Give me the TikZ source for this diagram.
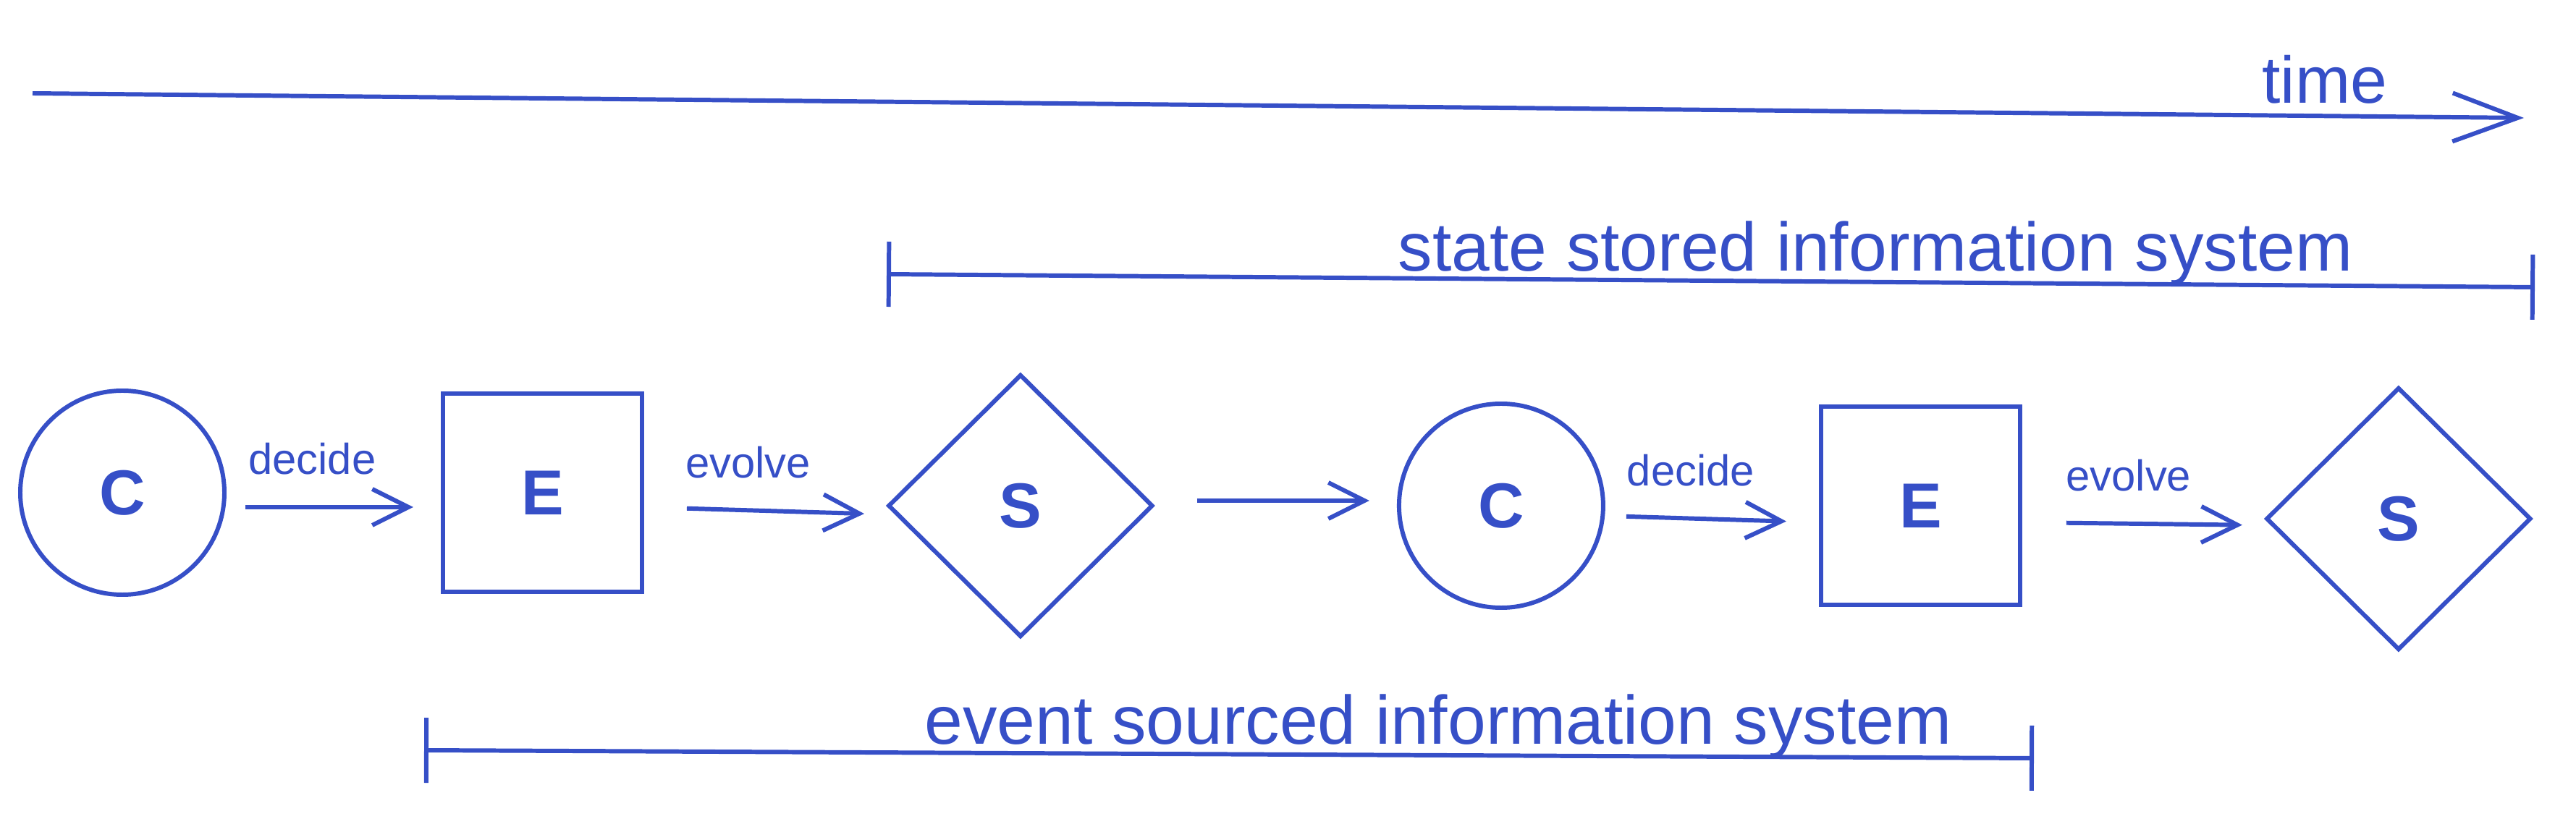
\documentclass[tikz,border=0pt]{standalone}
\usepackage{fontspec}
\setmainfont{Liberation Sans}
\usepackage{tikz}
\usetikzlibrary{positioning,shapes.geometric,arrows.meta}
\definecolor{ink}{HTML}{364FC7}
\tikzset{
  cmdnode/.style={draw=ink, circle, minimum size=28.2mm, inner sep=0pt, line width=1.7pt, text=ink, font=\fontsize{25}{30}\selectfont\bfseries},
  evnode/.style={draw=ink, rectangle, minimum width=27.5mm, minimum height=27.4mm, inner sep=0pt, line width=1.7pt, text=ink, font=\fontsize{25}{30}\selectfont\bfseries},
  stnode/.style={draw=ink, diamond, aspect=1, minimum width=36.6mm, minimum height=36.3mm, inner sep=0pt, line width=1.7pt, text=ink, font=\fontsize{25}{30}\selectfont\bfseries},
  flowlabel/.style={text=ink, font=\fontsize{17}{20}\selectfont, above=3mm},
  arrow/.style={-{Straight Barb[length=5mm, width=5mm]}, draw=ink, line width=1.7pt},
  timearrow/.style={-{Straight Barb[length=9mm, width=6.7mm]}, draw=ink, line width=1.7pt},
  span/.style={{Bar[width=9mm]}-{Bar[width=9mm]}, draw=ink, line width=1.7pt},
  spanlabel/.style={text=ink, font=\fontsize{27}{32}\selectfont, anchor=base, yshift=1.5mm}
}
\begin{document}
\begin{tikzpicture}
  \useasboundingbox (0,0) rectangle (35.59,-11.5);
  % time axis
  \coordinate (t0) at (0.45,-1.29);
  \coordinate (t1) at (34.87,-1.63);
  \draw[timearrow] (t0) -- node[pos=0.92, text=ink, font=\fontsize{26}{30}\selectfont, anchor=base, yshift=1.8mm] {time} (t1);
  % command, event, state chain
  \node[cmdnode] (c1) at (1.69,-6.81) {C};
  \node[evnode, right=2.96cm of c1] (e1) {E};
  \node[stnode, right=3.34cm of e1, yshift=-1.8mm] (s1) {S};
  \node[cmdnode, right=3.34cm of s1] (c2) {C};
  \node[evnode, right=2.95cm of c2] (e2) {E};
  \node[stnode, right=3.34cm of e2, yshift=-1.8mm] (s2) {S};
  \draw[arrow, shorten <=2.6mm, shorten >=3.8mm] ([yshift=-2mm]c1.east) -- node[flowlabel, pos=0.4] {decide} ([yshift=-2mm]e1.west);
  \draw[arrow, shorten <=5.9mm, shorten >=3mm] ([yshift=-2mm]e1.east) -- node[flowlabel, pos=0.43] {evolve} ([yshift=-1.2mm]s1.west);
  \draw[arrow, shorten <=5.8mm, shorten >=3.8mm] ([yshift=0.7mm]s1.east) -- ([yshift=0.7mm]c2.west);
  \draw[arrow, shorten <=2.9mm, shorten >=4.5mm] ([yshift=-1.4mm]c2.east) -- node[flowlabel, pos=0.4] {decide} ([yshift=-2.3mm]e2.west);
  \draw[arrow, shorten <=6.1mm, shorten >=3mm] ([yshift=-2.3mm]e2.east) -- node[flowlabel, pos=0.44] {evolve} ([yshift=-0.9mm]s2.west);
  % spans
  \coordinate (ss0) at (12.25,-3.79);
  \coordinate (ss1) at (35.02,-3.97);
  \draw[span] (ss0) -- node[spanlabel, pos=0.6] {state stored information system} (ss1);
  \coordinate (es0) at (5.86,-10.37);
  \coordinate (es1) at (28.10,-10.48);
  \draw[span] (es0) -- node[spanlabel, pos=0.63] {event sourced information system} (es1);
\end{tikzpicture}
\end{document}
